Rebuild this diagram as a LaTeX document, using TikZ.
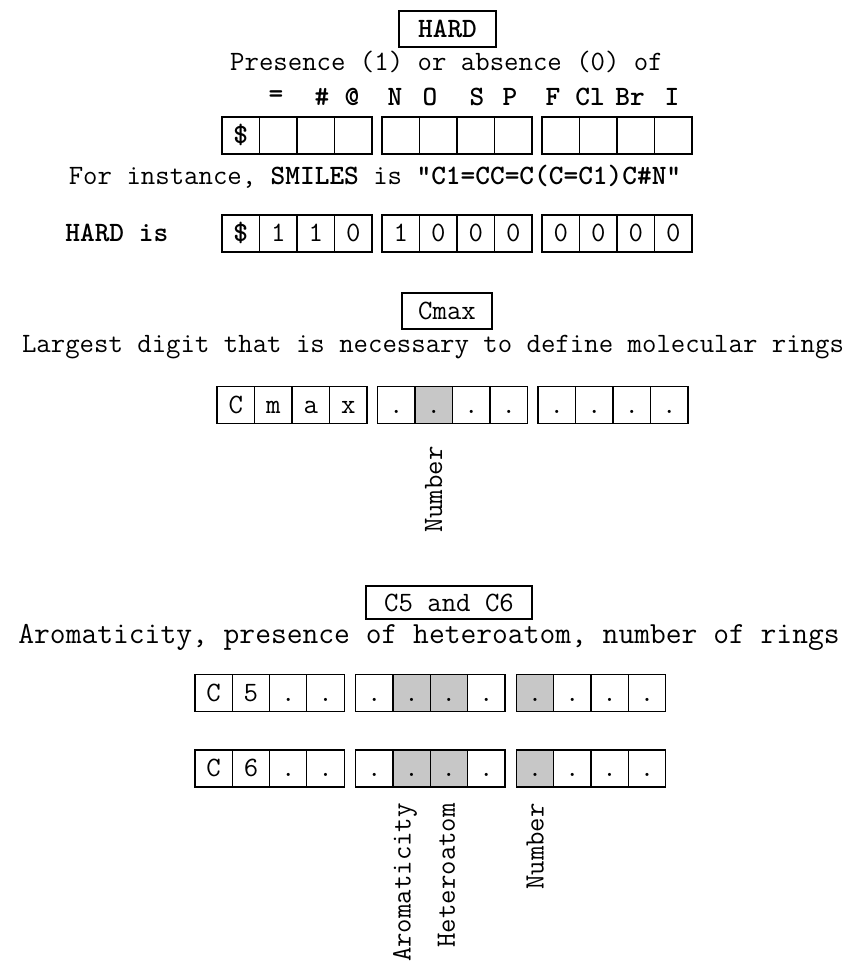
\documentclass[tikz,border=0pt]{standalone}
\usepackage{fontspec}
\definecolor{shade}{gray}{0.78}
\newcommand\fs{\fontsize{21}{25}\selectfont\ttfamily}
\tikzset{
  cell/.style={draw,line width=.9pt,minimum width=28.1pt,minimum height=27.8pt,
    inner sep=0pt,text height=13pt,text depth=1pt,font=\fs},
  title/.style={draw,line width=.9pt,minimum height=27pt,inner sep=0pt},
  vlabel/.style={rotate=90,anchor=east,inner sep=0pt}
}
% twelve cells in three groups of four: name, left x, centre y, cell width, gap, cells
\newcommand\cellrow[6]{%
  \foreach \txt/\col [count=\i] in {#6}{
    \pgfmathsetmacro\cx{#2+(\i-.5)*#4+floor((\i-1)/4)*#5}
    \node[cell,fill=\col] (#1-\i) at (\cx,#3) {\txt};
  }
}
\begin{document}
\begin{tikzpicture}[x=.75pt,y=-.75pt,font=\fs]
\useasboundingbox (0,0) rectangle (858,966);
% HARD
\node[title,minimum width=72.75pt,font=\fs\bfseries] (hard) at (447.5,29) {HARD};
\node (presence) at (446.5,62) {Presence (1) or absence (0) of};
\foreach \s/\x [count=\i] in {=/276,\#/322,@/352,N/395,O/430,S/477,P/510,F/553,Cl/590,Br/630,I/672}
  \node[font=\fs\bfseries] (sym-\i) at (\x,97) {\s};
\cellrow{hard}{222}{135.5}{37.5}{10}{\textbf{\$}/white,/white,/white,/white,/white,/white,/white,/white,/white,/white,/white,/white}
\node (instance) at (375,177) {For instance, \textbf{SMILES} is \textbf{"C1=CC=C(C=C1)C\#N"}};
\node[font=\fs\bfseries] (hardis) at (116.8,233) {HARD is};
\cellrow{hardex}{222}{233.5}{37.5}{10}{\textbf{\$}/white,1/white,1/white,0/white,1/white,0/white,0/white,0/white,0/white,0/white,0/white,0/white}
% Cmax
\node[title,minimum width=67.5pt] (cmax) at (447,311) {Cmax};
\node (largest) at (433,347) {Largest digit that is necessary to define molecular rings};
\cellrow{cmax}{217}{405}{37.5}{10.5}{C/white,m/white,a/white,x/white,./white,./shade,./white,./white,./white,./white,./white,./white}
\node[vlabel] (cmax-number) at ([yshift=-16.5pt]cmax-6.south) {Number};
% C5 and C6
\node[title,minimum width=124.5pt,minimum height=24.75pt] (ring) at (449,602.5) {C5 and C6};
\node[font=\fontsize{23}{27}\selectfont\ttfamily] (aromline) at (429,637) {Aromaticity, presence of heteroatom, number of rings};
\cellrow{cfive}{195}{693}{37.3}{11.5}{C/white,5/white,./white,./white,./white,./shade,./shade,./white,./shade,./white,./white,./white}
\cellrow{csix}{195}{768.5}{37.3}{11.5}{C/white,6/white,./white,./white,./white,./shade,./shade,./white,./shade,./white,./white,./white}
\node[vlabel] (arom) at ([xshift=-5pt,yshift=-11.5pt]csix-6.south) {Aromaticity};
\node[vlabel] (hetero) at ([xshift=-2pt,yshift=-11.5pt]csix-7.south) {Heteroatom};
\node[vlabel] (number) at ([yshift=-11.5pt]csix-9.south) {Number};
\end{tikzpicture}
\end{document}
